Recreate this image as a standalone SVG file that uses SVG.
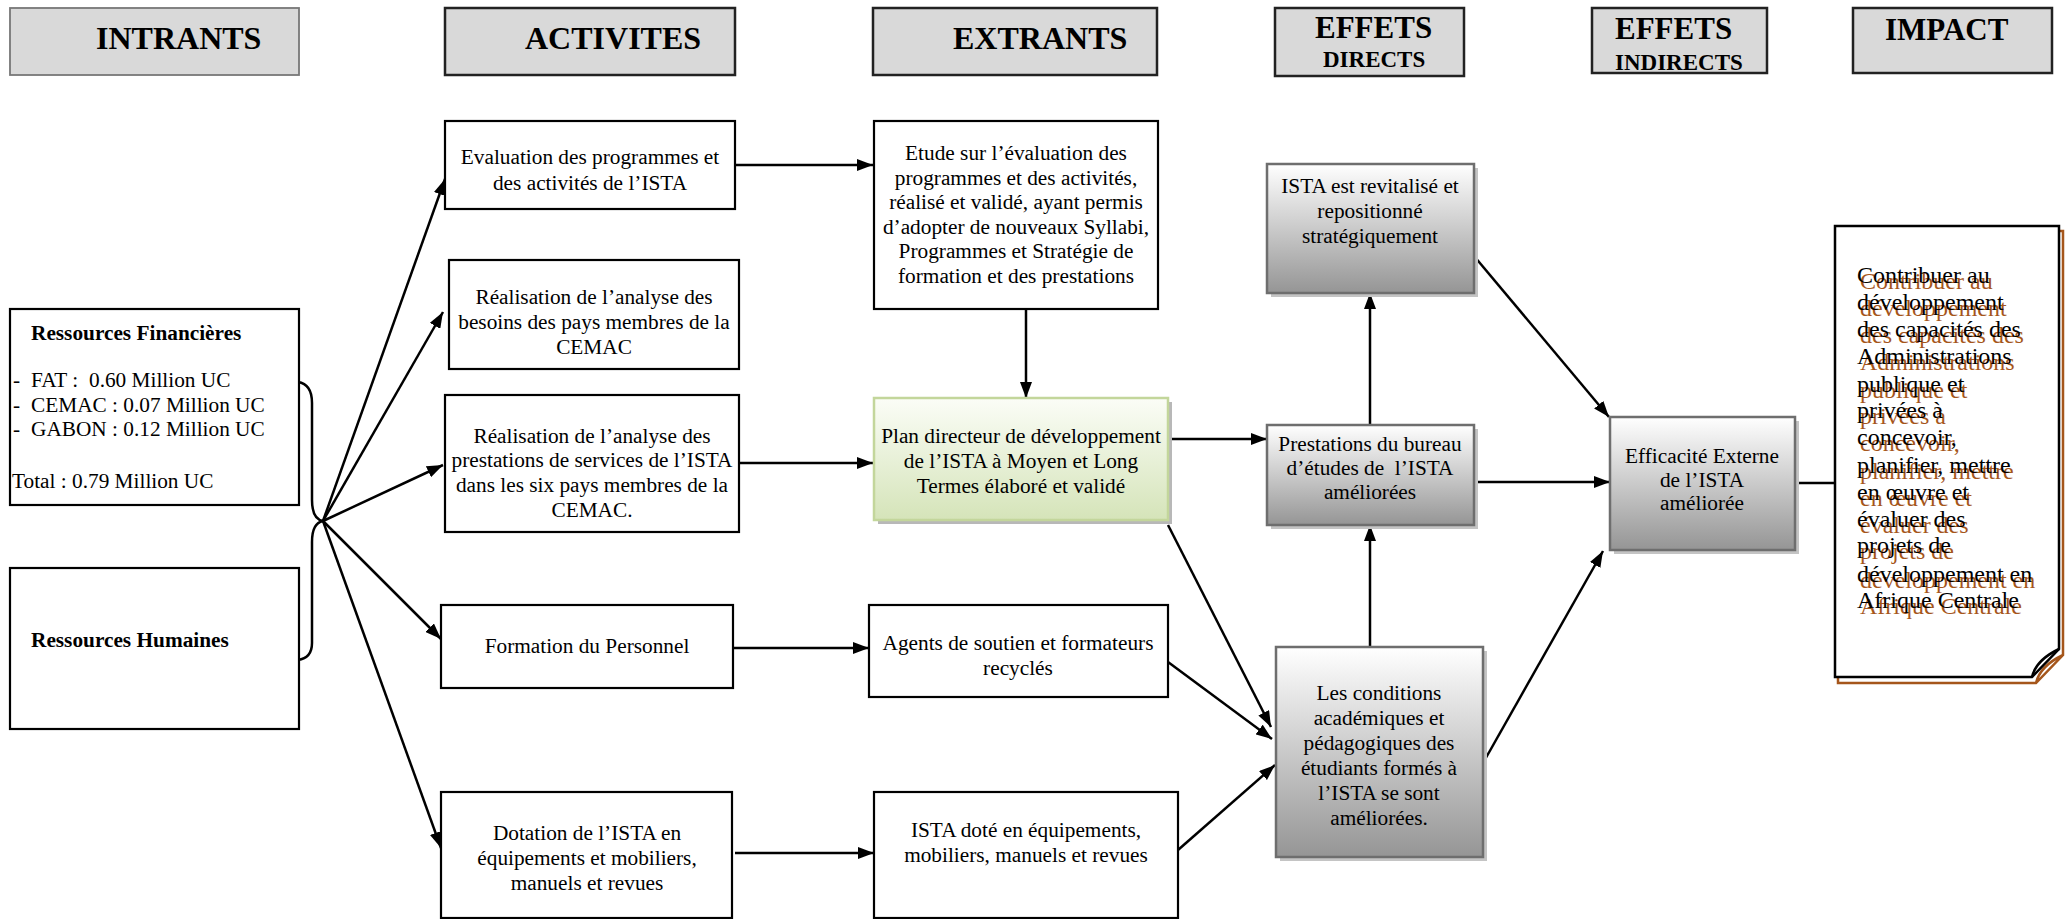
<svg xmlns="http://www.w3.org/2000/svg" width="2069" height="919" viewBox="0 0 2069 919">
<style>
text{font-family:"Liberation Serif","Times New Roman",serif;fill:#000}
.t{font-size:21.3px;text-anchor:middle}
.tl{font-size:21.3px}
.b{font-weight:bold}
.h{font-weight:bold;font-size:32px}
.h2{font-weight:bold;font-size:31px}
.h3{font-weight:bold;font-size:23px}
.hb{fill:#d9d9d9;stroke:#222;stroke-width:2.5}
.box{fill:#fff;stroke:#000;stroke-width:2.2}
.gbox{fill:url(#gg);stroke:#6e6e6e;stroke-width:2.5}
.sh{fill:#c4c4c4}
.imp{font-size:24px}
.impb{font-size:24px;fill:#a5561b}
.c{fill:none;stroke:#000;stroke-width:2.5}
</style>
<defs>
<linearGradient id="gg" x1="0" y1="0" x2="0" y2="1">
<stop offset="0" stop-color="#ffffff"/>
<stop offset="1" stop-color="#959595"/>
</linearGradient>
<linearGradient id="gp" x1="0" y1="0" x2="0" y2="1">
<stop offset="0" stop-color="#fbfdf7"/>
<stop offset="1" stop-color="#d5e4b9"/>
</linearGradient>
<marker id="ah" markerUnits="userSpaceOnUse" markerWidth="16" markerHeight="12" refX="16" refY="6" orient="auto">
<path d="M0,0 L16,6 L0,12 z" fill="#000"/>
</marker>
</defs>

<g id="headers">
<rect x="10" y="8" width="289" height="67" fill="#d9d9d9" stroke="#777" stroke-width="1.8"/>
<text class="h" x="96" y="49">INTRANTS</text>
<rect class="hb" x="445" y="8" width="290" height="67"/>
<text class="h" x="525" y="49">ACTIVITES</text>
<rect class="hb" x="873" y="8" width="284" height="67"/>
<text class="h" x="953" y="49">EXTRANTS</text>
<rect class="hb" x="1275" y="8" width="189" height="68"/>
<text class="h2" x="1315" y="38">EFFETS</text>
<text class="h3" x="1323" y="67">DIRECTS</text>
<rect class="hb" x="1592" y="8" width="175" height="65"/>
<text class="h2" x="1615" y="39">EFFETS</text>
<text class="h3" x="1615" y="70">INDIRECTS</text>
<rect class="hb" x="1853" y="8" width="199" height="65"/>
<text class="h2" x="1885" y="40">IMPACT</text>
</g>

<g id="connectors">
<path class="c" d="M298,382 Q312,384 312,403 L312,500 Q312,519 323,521 Q312,523 312,542 L312,643 Q312,658 298,660"/>
<path class="c" marker-end="url(#ah)" d="M323,521 L445,179"/>
<path class="c" marker-end="url(#ah)" d="M323,521 L443,312"/>
<path class="c" marker-end="url(#ah)" d="M323,521 L443,465"/>
<path class="c" marker-end="url(#ah)" d="M323,521 L441,639"/>
<path class="c" marker-end="url(#ah)" d="M323,521 L441,848"/>
<path class="c" marker-end="url(#ah)" d="M735,165 L873,165"/>
<path class="c" marker-end="url(#ah)" d="M739,463 L873,463"/>
<path class="c" marker-end="url(#ah)" d="M733,648 L869,648"/>
<path class="c" marker-end="url(#ah)" d="M735,853 L874,853"/>
<path class="c" marker-end="url(#ah)" d="M1026,309 L1026,398"/>
<path class="c" marker-end="url(#ah)" d="M1168,439 L1267,439"/>
<path class="c" marker-end="url(#ah)" d="M1168,525 L1271,727"/>
<path class="c" marker-end="url(#ah)" d="M1168,662 L1272,739"/>
<path class="c" marker-end="url(#ah)" d="M1178,850 L1275,765"/>
<path class="c" marker-end="url(#ah)" d="M1370,425 L1370,293"/>
<path class="c" marker-end="url(#ah)" d="M1370,647 L1370,525"/>
<path class="c" marker-end="url(#ah)" d="M1474,256 L1609,417"/>
<path class="c" marker-end="url(#ah)" d="M1474,482 L1610,482"/>
<path class="c" marker-end="url(#ah)" d="M1483,763 L1603,551"/>
<path class="c" marker-end="url(#ah)" d="M1795,483 L1852,483"/>
</g>

<g id="fin">
<rect class="box" x="10" y="309" width="289" height="196"/>
<text class="tl b" x="31" y="340">Ressources Financières</text>
<text class="tl" x="13" y="387">-</text><text class="tl" x="31" y="387">FAT :</text><text class="tl" x="89" y="387">0.60 Million UC</text>
<text class="tl" x="13" y="412">-</text><text class="tl" x="31" y="412">CEMAC : 0.07 Million UC</text>
<text class="tl" x="13" y="436">-</text><text class="tl" x="31" y="436">GABON : 0.12 Million UC</text>
<text class="tl" x="12" y="488">Total : 0.79 Million UC</text>
</g>
<g id="hum">
<rect class="box" x="10" y="568" width="289" height="161"/>
<text class="tl b" x="31" y="647">Ressources Humaines</text>
</g>

<g id="eval">
<rect class="box" x="445" y="121" width="290" height="88"/>
<text class="t" x="590" y="164">Evaluation des programmes et</text>
<text class="t" x="590" y="190">des activités de l’ISTA</text>
</g>
<g id="besoins">
<rect class="box" x="449" y="260" width="290" height="109"/>
<text class="t" x="594" y="304">Réalisation de l’analyse des</text>
<text class="t" x="594" y="329">besoins des pays membres de la</text>
<text class="t" x="594" y="354">CEMAC</text>
</g>
<g id="prest">
<rect class="box" x="445" y="395" width="294" height="137"/>
<text class="t" x="592" y="443">Réalisation de l’analyse des</text>
<text class="t" x="592" y="467">prestations de services de l’ISTA</text>
<text class="t" x="592" y="492">dans les six pays membres de la</text>
<text class="t" x="592" y="517">CEMAC.</text>
</g>
<g id="form">
<rect class="box" x="441" y="605" width="292" height="83"/>
<text class="t" x="587" y="653">Formation du Personnel</text>
</g>
<g id="dot">
<rect class="box" x="441" y="792" width="291" height="126"/>
<text class="t" x="587" y="840">Dotation de l’ISTA en</text>
<text class="t" x="587" y="865">équipements et mobiliers,</text>
<text class="t" x="587" y="890">manuels et revues</text>
</g>

<g id="etude">
<rect class="box" x="874" y="121" width="284" height="188"/>
<text class="t" x="1016" y="160">Etude sur l’évaluation des</text>
<text class="t" x="1016" y="185">programmes et des activités,</text>
<text class="t" x="1016" y="209">réalisé et validé, ayant permis</text>
<text class="t" x="1016" y="234">d’adopter de nouveaux Syllabi,</text>
<text class="t" x="1016" y="258">Programmes et Stratégie de</text>
<text class="t" x="1016" y="283">formation et des prestations</text>
</g>
<g id="plan">
<rect x="878" y="402" width="294" height="122" fill="#b8b8b8"/>
<rect x="874" y="398" width="294" height="122" fill="url(#gp)" stroke="#c3d69b" stroke-width="2.5"/>
<text class="t" x="1021" y="443">Plan directeur de développement</text>
<text class="t" x="1021" y="468">de l’ISTA à Moyen et Long</text>
<text class="t" x="1021" y="493">Termes élaboré et validé</text>
</g>
<g id="agents">
<rect class="box" x="869" y="605" width="299" height="92"/>
<text class="t" x="1018" y="650">Agents de soutien et formateurs</text>
<text class="t" x="1018" y="675">recyclés</text>
</g>
<g id="dote">
<rect class="box" x="874" y="792" width="304" height="126"/>
<text class="t" x="1026" y="837">ISTA doté en équipements,</text>
<text class="t" x="1026" y="862">mobiliers, manuels et revues</text>
</g>

<g id="revit">
<rect class="sh" x="1271" y="168" width="207" height="129"/>
<rect class="gbox" x="1267" y="164" width="207" height="129"/>
<text class="t" x="1370" y="193">ISTA est revitalisé et</text>
<text class="t" x="1370" y="218">repositionné</text>
<text class="t" x="1370" y="243">stratégiquement</text>
</g>
<g id="prestbur">
<rect class="sh" x="1271" y="429" width="207" height="100"/>
<rect class="gbox" x="1267" y="425" width="207" height="100"/>
<text class="t" x="1370" y="451">Prestations du bureau</text>
<text class="t" x="1370" y="475">d’études de &#160;l’ISTA</text>
<text class="t" x="1370" y="499">améliorées</text>
</g>
<g id="cond">
<rect class="sh" x="1280" y="651" width="207" height="210"/>
<rect class="gbox" x="1276" y="647" width="207" height="210"/>
<text class="t" x="1379" y="700">Les conditions</text>
<text class="t" x="1379" y="725">académiques et</text>
<text class="t" x="1379" y="750">pédagogiques des</text>
<text class="t" x="1379" y="775">étudiants formés à</text>
<text class="t" x="1379" y="800">l’ISTA se sont</text>
<text class="t" x="1379" y="825">améliorées.</text>
</g>
<g id="effic">
<rect class="sh" x="1614" y="421" width="185" height="133"/>
<rect class="gbox" x="1610" y="417" width="185" height="133"/>
<text class="t" x="1702" y="463">Efficacité Externe</text>
<text class="t" x="1702" y="487">de l’ISTA</text>
<text class="t" x="1702" y="510">améliorée</text>
</g>

<g id="impact">
<path d="M1838,231 L2063,231 L2063,655 L2036,683 L1838,683 Z M2036,683 Q2040,666 2063,655" fill="none" stroke="#a5561b" stroke-width="2.5"/>
<path d="M1835,226 L2059,226 L2059,649 L2032,677 L1835,677 Z" fill="#fff" stroke="#000" stroke-width="2.5"/>
<path d="M2032,677 Q2036,660 2059,649" fill="none" stroke="#000" stroke-width="2.5"/>
<g class="impb">
<text class="impb" x="1860" y="289">Contribuer au</text>
<text class="impb" x="1860" y="316">développement</text>
<text class="impb" x="1860" y="343">des capacités des</text>
<text class="impb" x="1860" y="370">Administrations</text>
<text class="impb" x="1860" y="398">publique et</text>
<text class="impb" x="1860" y="424">privées à</text>
<text class="impb" x="1860" y="451">concevoir,</text>
<text class="impb" x="1860" y="479">planifier, mettre</text>
<text class="impb" x="1860" y="506">en œuvre et</text>
<text class="impb" x="1860" y="533">évaluer des</text>
<text class="impb" x="1860" y="559">projets de</text>
<text class="impb" x="1860" y="588">développement en</text>
<text class="impb" x="1860" y="614">Afrique Centrale</text>
</g>
<text class="imp" x="1857" y="283">Contribuer au</text>
<text class="imp" x="1857" y="310">développement</text>
<text class="imp" x="1857" y="337">des capacités des</text>
<text class="imp" x="1857" y="364">Administrations</text>
<text class="imp" x="1857" y="392">publique et</text>
<text class="imp" x="1857" y="418">privées à</text>
<text class="imp" x="1857" y="445">concevoir,</text>
<text class="imp" x="1857" y="473">planifier, mettre</text>
<text class="imp" x="1857" y="500">en œuvre et</text>
<text class="imp" x="1857" y="527">évaluer des</text>
<text class="imp" x="1857" y="553">projets de</text>
<text class="imp" x="1857" y="582">développement en</text>
<text class="imp" x="1857" y="608">Afrique Centrale</text>
</g>
</svg>
